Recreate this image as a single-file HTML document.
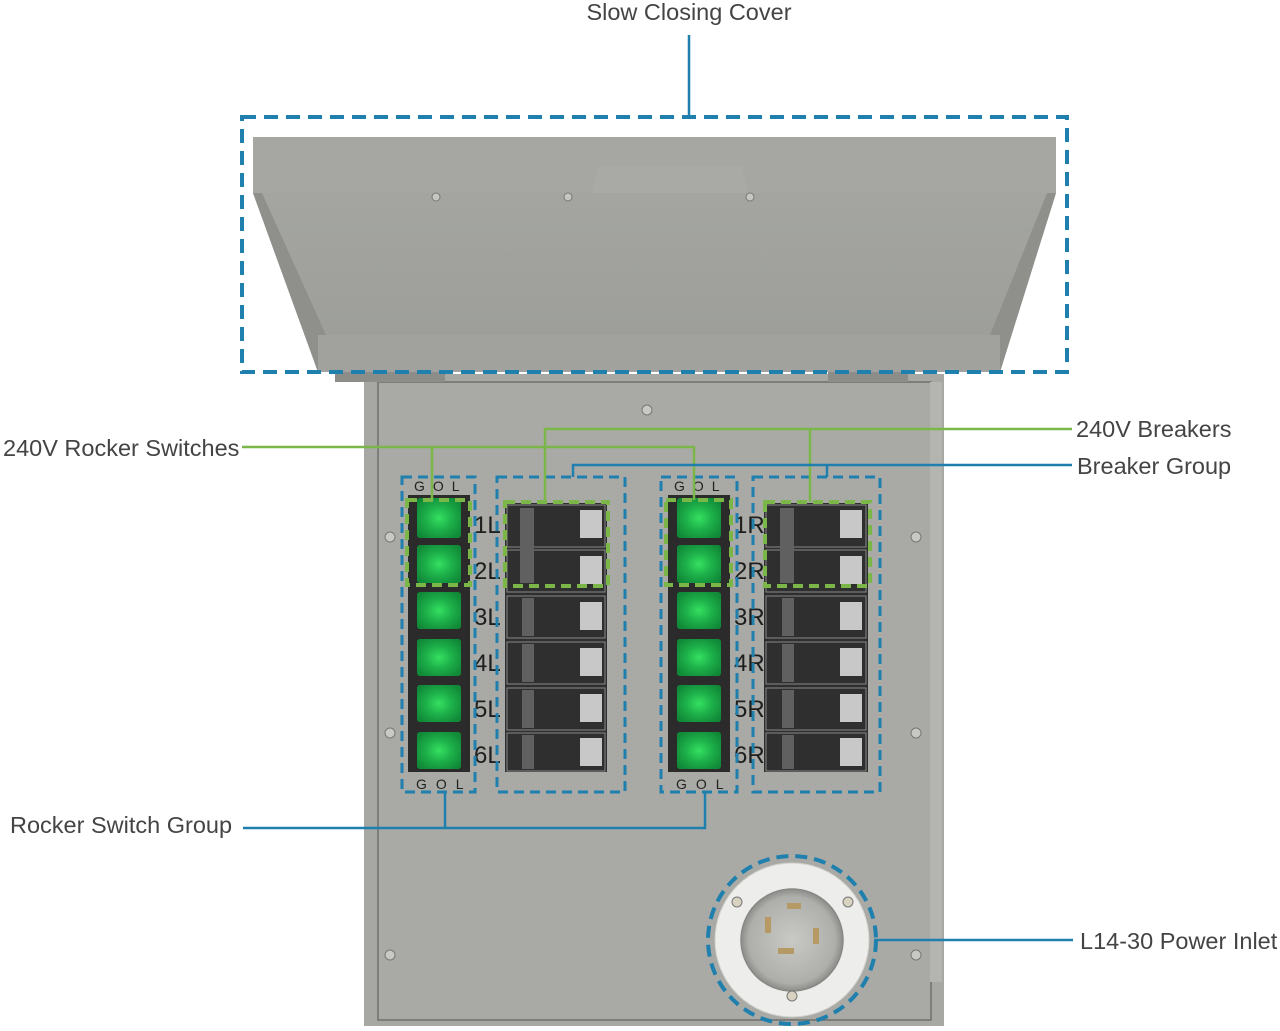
<!DOCTYPE html>
<html><head><meta charset="utf-8"><style>
html,body{margin:0;padding:0;background:#fff;}
svg{display:block;}
text{font-family:"Liberation Sans",sans-serif;}
</style></head><body>
<svg width="1280" height="1031" viewBox="0 0 1280 1031" xmlns="http://www.w3.org/2000/svg">
<defs>
<linearGradient id="cov" x1="0" y1="0" x2="0" y2="1"><stop offset="0" stop-color="#a4a5a1"/><stop offset="1" stop-color="#9c9d99"/></linearGradient>
<radialGradient id="sw" cx="0.5" cy="0.5" r="0.6"><stop offset="0" stop-color="#35e060"/><stop offset="0.5" stop-color="#1db04a"/><stop offset="1" stop-color="#118a38"/></radialGradient>
<radialGradient id="plug" cx="0.5" cy="0.5" r="0.5"><stop offset="0" stop-color="#c9c9c5"/><stop offset="0.85" stop-color="#aeaeaa"/><stop offset="1" stop-color="#8c8c88"/></radialGradient>
</defs>

<rect x="364" y="374" width="580" height="652" fill="#a7a8a4"/>
<rect x="378" y="382" width="553" height="638" fill="#a9aaa6" stroke="#6f706c" stroke-width="1.5"/>
<rect x="930" y="382" width="12" height="600" fill="#b4b5b1"/>
<g fill="#c8c8c4" stroke="#777" stroke-width="1">
<circle cx="647" cy="410" r="5"/><circle cx="390" cy="537" r="5"/><circle cx="390" cy="733" r="5"/>
<circle cx="916" cy="537" r="5"/><circle cx="916" cy="733" r="5"/><circle cx="390" cy="955" r="5"/><circle cx="916" cy="955" r="5"/>
</g>

<rect x="253" y="137" width="803" height="56" fill="#a6a7a3"/>
<polygon points="253,193 1056,193 1000,372 318,372" fill="url(#cov)"/>
<polygon points="253,193 262,193 326,335 318,372" fill="#8f908c"/>
<polygon points="1056,193 1047,193 990,335 1000,372" fill="#8f908c"/>
<rect x="318" y="335" width="682" height="37" fill="#a1a29e"/>
<polygon points="598,166 742,166 748,193 592,193" fill="#a9aaa6"/>
<circle cx="436" cy="197" r="4" fill="#c6c6c2" stroke="#777"/>
<circle cx="568" cy="197" r="4" fill="#c6c6c2" stroke="#777"/>
<circle cx="750" cy="197" r="4" fill="#c6c6c2" stroke="#777"/>
<rect x="335" y="372" width="110" height="10" fill="#8c8d89"/>
<rect x="828" y="372" width="80" height="10" fill="#8c8d89"/>

<rect x="408" y="495" width="62" height="277" fill="#2b2b2b"/>
<rect x="668" y="495" width="62" height="277" fill="#2b2b2b"/>
<g fill="url(#sw)">
<rect x="417" y="498" width="44" height="40" rx="3"/><rect x="417" y="545" width="44" height="38" rx="3"/>
<rect x="417" y="592" width="44" height="37" rx="3"/><rect x="417" y="639" width="44" height="37" rx="3"/>
<rect x="417" y="685" width="44" height="37" rx="3"/><rect x="417" y="732" width="44" height="37" rx="3"/>
<rect x="677" y="498" width="44" height="40" rx="3"/><rect x="677" y="545" width="44" height="38" rx="3"/>
<rect x="677" y="592" width="44" height="37" rx="3"/><rect x="677" y="639" width="44" height="37" rx="3"/>
<rect x="677" y="685" width="44" height="37" rx="3"/><rect x="677" y="732" width="44" height="37" rx="3"/>
</g>

<rect x="505" y="503" width="102" height="269" fill="#2f2f2f"/>
<rect x="764" y="503" width="104" height="269" fill="#2f2f2f"/>
<g fill="none" stroke="#8a8a8a" stroke-width="1">
<rect x="507" y="505" width="98" height="42"/><rect x="507" y="550" width="98" height="42"/>
<rect x="507" y="596" width="98" height="42"/><rect x="507" y="642" width="98" height="42"/>
<rect x="507" y="688" width="98" height="42"/><rect x="507" y="733" width="98" height="38"/>
<rect x="766" y="505" width="100" height="42"/><rect x="766" y="550" width="100" height="42"/>
<rect x="766" y="596" width="100" height="42"/><rect x="766" y="642" width="100" height="42"/>
<rect x="766" y="688" width="100" height="42"/><rect x="766" y="733" width="100" height="38"/>
</g>
<g fill="#606060">
<rect x="520" y="508" width="14" height="75"/><rect x="522" y="598" width="12" height="38"/><rect x="522" y="644" width="12" height="38"/><rect x="522" y="690" width="12" height="38"/><rect x="522" y="735" width="12" height="34"/>
<rect x="780" y="508" width="14" height="75"/><rect x="782" y="598" width="12" height="38"/><rect x="782" y="644" width="12" height="38"/><rect x="782" y="690" width="12" height="38"/><rect x="782" y="735" width="12" height="34"/>
</g>
<g fill="#c8c8c8">
<rect x="580" y="510" width="22" height="28"/><rect x="580" y="556" width="22" height="28"/><rect x="580" y="602" width="22" height="28"/><rect x="580" y="648" width="22" height="28"/><rect x="580" y="694" width="22" height="28"/><rect x="580" y="738" width="22" height="28"/>
<rect x="840" y="510" width="22" height="28"/><rect x="840" y="556" width="22" height="28"/><rect x="840" y="602" width="22" height="28"/><rect x="840" y="648" width="22" height="28"/><rect x="840" y="694" width="22" height="28"/><rect x="840" y="738" width="22" height="28"/>
</g>

<g font-size="24" fill="#1e1e1e">
<text x="474" y="533">1L</text><text x="474" y="579">2L</text><text x="474" y="625">3L</text><text x="474" y="671">4L</text><text x="474" y="717">5L</text><text x="474" y="763">6L</text>
<text x="734" y="533">1R</text><text x="734" y="579">2R</text><text x="734" y="625">3R</text><text x="734" y="671">4R</text><text x="734" y="717">5R</text><text x="734" y="763">6R</text>
</g>
<g font-size="14" fill="#222">
<text x="414" y="491" letter-spacing="8">GOL</text><text x="416" y="789" letter-spacing="9">GOL</text>
<text x="674" y="491" letter-spacing="8">GOL</text><text x="676" y="789" letter-spacing="9">GOL</text>
</g>

<g fill="none" stroke="#1f7fad" stroke-width="4" stroke-dasharray="14 8">
<rect x="242" y="117" width="825" height="255"/>
<rect x="402" y="477" width="73" height="315" stroke-width="3" stroke-dasharray="10 6"/>
<rect x="497" y="477" width="128" height="315" stroke-width="3" stroke-dasharray="10 6"/>
<rect x="661" y="477" width="76" height="315" stroke-width="3" stroke-dasharray="10 6"/>
<rect x="753" y="477" width="127" height="315" stroke-width="3" stroke-dasharray="10 6"/>
</g>
<g fill="none" stroke="#7ab648" stroke-width="4" stroke-dasharray="10 6">
<rect x="407" y="500" width="63" height="85"/>
<rect x="505" y="502" width="103" height="84"/>
<rect x="666" y="500" width="65" height="85"/>
<rect x="765" y="502" width="105" height="84"/>
</g>

<g stroke="#7ab648" stroke-width="2.5" fill="none">
<polyline points="242,447 694,447 694,500"/>
<line x1="432" y1="447" x2="432" y2="500"/>
<polyline points="545,502 545,429 1072,429"/>
<line x1="810" y1="429" x2="810" y2="502"/>
</g>
<g stroke="#1f7fad" stroke-width="2.5" fill="none">
<line x1="689" y1="35" x2="689" y2="117"/>
<polyline points="573,477 573,465 1072,465"/>
<line x1="827" y1="465" x2="827" y2="477"/>
<polyline points="243,828 705,828 705,792"/>
<line x1="445" y1="828" x2="445" y2="792"/>
<line x1="874" y1="940" x2="1073" y2="940"/>
</g>

<circle cx="792" cy="940" r="77" fill="#ededeb" stroke="#d0d0cc" stroke-width="1"/>
<circle cx="792" cy="940" r="84" fill="none" stroke="#1f7fad" stroke-width="4" stroke-dasharray="12 7"/>
<circle cx="792" cy="940" r="51" fill="url(#plug)" stroke="#888" stroke-width="1.5"/>
<g fill="#b69a66">
<rect x="787" y="903" width="14" height="6"/><rect x="765" y="917" width="6" height="16"/>
<rect x="813" y="928" width="6" height="16"/><rect x="778" y="948" width="16" height="6"/>
</g>
<g fill="#d8d2c0" stroke="#777"><circle cx="737" cy="902" r="5"/><circle cx="848" cy="902" r="5"/><circle cx="792" cy="996" r="5"/></g>

<g font-size="23.5" fill="#444">
<text x="689" y="20" text-anchor="middle">Slow Closing Cover</text>
<text x="3" y="456">240V Rocker Switches</text>
<text x="1076" y="437">240V Breakers</text>
<text x="1077" y="474">Breaker Group</text>
<text x="10" y="833">Rocker Switch Group</text>
<text x="1080" y="949">L14-30 Power Inlet</text>
</g>
</svg>
</body></html>
